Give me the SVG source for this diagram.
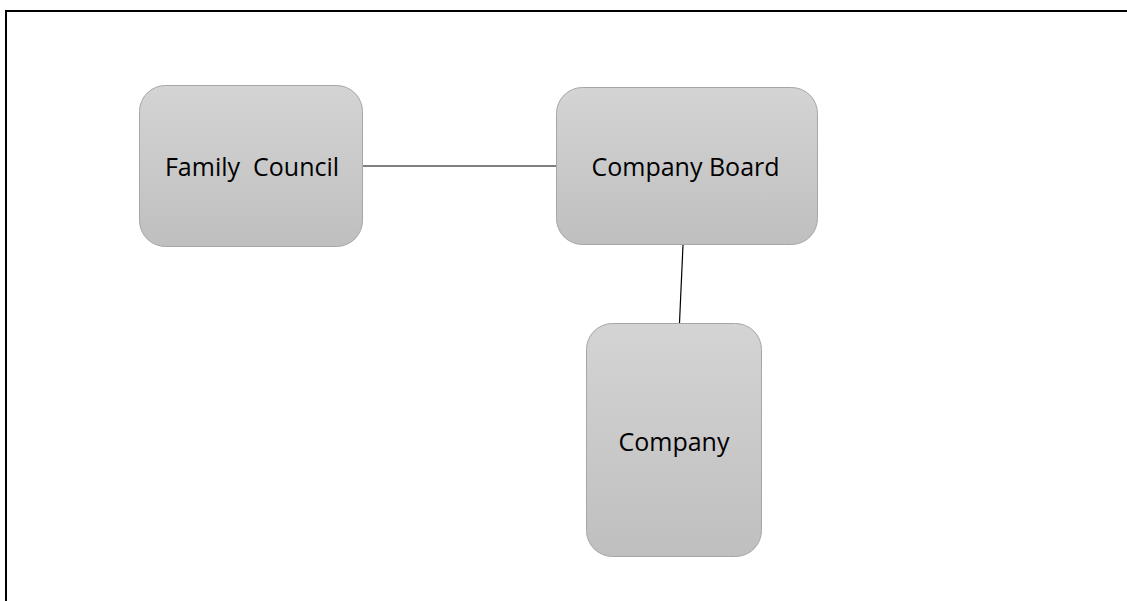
<svg xmlns="http://www.w3.org/2000/svg" width="1127" height="601" viewBox="0 0 1127 601">
  <defs>
    <linearGradient id="boxFill" x1="0" y1="0" x2="0" y2="1">
      <stop offset="0" stop-color="#d4d4d4"/>
      <stop offset="1" stop-color="#bfbfbf"/>
    </linearGradient>
    <style>
      .box { fill: url(#boxFill); stroke: #a6a6a6; stroke-width: 1; }
      .label { font-family: "Open Sans", "Liberation Sans", sans-serif; font-size: 25px; fill: #000; text-anchor: middle; }
      .link { stroke: #000; stroke-width: 1.2; fill: none; }
      .frame { stroke: #000; stroke-width: 2; fill: none; }
    </style>
  </defs>
  <rect width="1127" height="601" fill="#fff"/>
  <!-- page frame: top and left edges -->
  <path class="frame" d="M6 601 V11 H1127"/>

  <g id="connectors">
    <line class="link" x1="363" y1="166" x2="556" y2="166"/>
    <line class="link" x1="683" y1="245" x2="679.5" y2="323"/>
  </g>

  <g id="family-council">
    <rect class="box" x="139.5" y="85.5" width="223" height="161" rx="26"/>
    <text class="label" x="252" y="175.5" xml:space="preserve">Family  Council</text>
  </g>

  <g id="company-board">
    <rect class="box" x="556.5" y="87.5" width="261" height="157" rx="26"/>
    <text class="label" x="685.5" y="175.5">Company Board</text>
  </g>

  <g id="company">
    <rect class="box" x="586.5" y="323.5" width="175" height="233" rx="26"/>
    <text class="label" x="674" y="451">Company</text>
  </g>
</svg>
